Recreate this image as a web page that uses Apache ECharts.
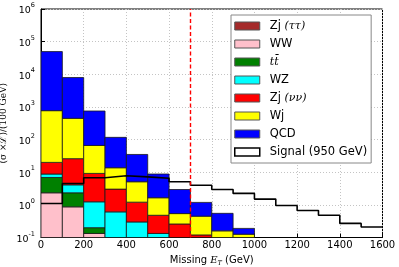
<!DOCTYPE html>
<html><head><meta charset="utf-8">
<script src="https://cdn.jsdelivr.net/npm/echarts@6/dist/echarts.min.js"></script>
<style>html,body{margin:0;padding:0;background:#fff}#c{width:399px;height:267px}</style>
</head><body><div id="c"></div>
<script>
// bin lower edges (GeV), each bin is 100 GeV wide
const binLow = [0,100,200,300,400,500,600,700,800,900,1000,1100,1200,1300,1400,1500];
const binWidth = 100;
// per-process contributions per bin, stacked bottom-up in this order
const zjTauTau = [0,0,0,0,0,0,0,0,0,0,0,0,0,0,0,0];
const ww      = [2.34,0.87,0.133,0,0,0,0,0,0,0,0,0,0,0,0,0];
const ttbar   = [4.56,1.47,0.067,0,0,0,0,0,0,0,0,0,0,0,0,0];
const wz      = [1.9,1.76,1.04,0.61,0.30,0.133,0,0,0,0,0,0,0,0,0,0];
const zjNuNu  = [11.2,21.9,7.96,2.43,0.91,0.347,0.26,0.12,0,0,0,0,0,0,0,0];
const wj      = [748,421,56.8,10.66,3.89,1.17,0.28,0.33,0.16,0.126,0,0,0,0,0,0];
const qcd     = [48800,7500,684,103.3,29.9,7.15,2.41,0.74,0.39,0.064,0,0,0,0,0,0];
const signal  = [1.1,4.5,6.8,7.8,7.2,6.5,5.1,4.0,2.97,2.24,1.5,0.96,0.67,0.48,0.27,0.21];
const cutValue = 700;
const yMin = 0.1, yMax = 1e6;
const xTicks = [0,200,400,600,800,1000,1200,1400,1600];

const procs = [
  {name:'Zj (ττ)', label:'{s|Zj }{m|(ττ)}', data:zjTauTau, color:'#a52a2a'},
  {name:'WW', label:'{s|WW}', data:ww, color:'#ffc0cb'},
  {name:'tt̄', label:'{m|tt̄}', data:ttbar, color:'#008000'},
  {name:'WZ', label:'{s|WZ}', data:wz, color:'#00ffff'},
  {name:'Zj (νν)', label:'{s|Zj }{m|(νν)}', data:zjNuNu, color:'#ff0000'},
  {name:'Wj', label:'{s|Wj}', data:wj, color:'#ffff00'},
  {name:'QCD', label:'{s|QCD}', data:qcd, color:'#0000ff'}
];
const cum = binLow.map(()=>0);
const series = [];
procs.forEach(p => {
  const items = [];
  binLow.forEach((x,i) => {
    const lo = cum[i];
    const hi = lo + p.data[i];
    cum[i] = hi;
    if (p.data[i] > 0 && hi > yMin) items.push([x, x + binWidth, Math.max(lo, yMin), hi]);
  });
  series.push({
    name: p.name, type:'custom', z:2, clip:true,
    itemStyle:{color:p.color, borderColor:'#1a1a1a', borderWidth:0.8},
    encode:{x:[0,1], y:[2,3]},
    renderItem:(params, api) => {
      const a = api.coord([api.value(0), api.value(3)]);
      const b = api.coord([api.value(1), api.value(2)]);
      return {type:'rect', shape:{x:a[0], y:a[1], width:b[0]-a[0], height:b[1]-a[1]},
        style:{fill:p.color, stroke:'#1a1a1a', lineWidth:0.8}};
    },
    data: items
  });
});
const sigPts = binLow.map((x,i)=>[x, signal[i]]);
sigPts.push([binLow[binLow.length-1]+binWidth, signal[signal.length-1]]);
series.push({
  name:'Signal (950 GeV)', type:'line', step:'end', symbol:'none', z:5,
  lineStyle:{color:'#000', width:1.6}, itemStyle:{color:'#fff'},
  data: sigPts,
  markLine:{silent:true, symbol:['none','none'], label:{show:false}, z:6,
    lineStyle:{color:'#ff0000', type:[4,2.5], width:1.4},
    data:[{xAxis:cutValue}]}
});

const legendRich = {
  s:{fontFamily:'DejaVu Sans', fontSize:11.5, color:'#000'},
  m:{fontFamily:'DejaVu Serif', fontStyle:'italic', fontSize:11, color:'#000'}
};
const legendData = procs.map(p => ({name:p.name, icon:'rect',
  itemStyle:{color:p.color, borderColor:'#555', borderWidth:1}}));
legendData.push({name:'Signal (950 GeV)', icon:'rect', itemStyle:{color:'#fff', borderColor:'#000', borderWidth:1.5}});
const labelMap = {};
procs.forEach(p => labelMap[p.name] = p.label);
labelMap['Signal (950 GeV)'] = '{s|Signal (950 GeV)}';

const chart = echarts.init(document.getElementById('c'), null, {renderer:'canvas'});
chart.setOption({
  animation:false,
  grid:{left:41, right:16.5, top:9, bottom:29.5, show:true, borderColor:'#000', borderWidth:1,
    backgroundColor:'transparent', containLabel:false, outerBoundsMode:'none'},
  xAxis:{type:'value', min:0, max:1600, interval:200,
    name:'{a|Missing }{e|E}{t|T}{a| (GeV)}', nameLocation:'middle', nameGap:13,
    nameTextStyle:{rich:{
      a:{fontFamily:'DejaVu Sans', fontSize:10, color:'#000', lineHeight:13},
      e:{fontFamily:'DejaVu Serif', fontStyle:'italic', fontSize:10, color:'#000', lineHeight:13},
      t:{fontFamily:'DejaVu Serif', fontStyle:'italic', fontSize:6.5, color:'#000', verticalAlign:'bottom', lineHeight:9}
    }},
    axisLine:{show:true, lineStyle:{color:'#000', width:1}},
    axisTick:{show:true, inside:true, length:4, lineStyle:{color:'#000'}},
    axisLabel:{fontFamily:'DejaVu Sans', fontSize:10, color:'#000', margin:3,
      formatter:v => xTicks.includes(v) ? String(v) : ''},
    splitLine:{show:true, lineStyle:{color:'#c4c4c4', type:[1,2], width:1}}
  },
  yAxis:{type:'log', logBase:10, min:yMin, max:yMax, interval:1, splitNumber:7,
    name:'(σ ×ℒ)/(100 GeV)', nameLocation:'middle', nameGap:33, nameRotate:90, nameMoveOverlap:false,
    nameTextStyle:{fontFamily:'DejaVu Serif', fontSize:9, color:'#000'},
    axisLine:{show:true, lineStyle:{color:'#000', width:1}},
    axisTick:{show:true, inside:true, length:4, lineStyle:{color:'#000'}},
    axisLabel:{margin:6, formatter:v => '{b|10}{s|' + Math.round(Math.log10(v)) + '}',
      rich:{
        b:{fontFamily:'DejaVu Sans', fontSize:9.5, color:'#000', lineHeight:14, verticalAlign:'bottom'},
        s:{fontFamily:'DejaVu Sans', fontSize:6.5, color:'#000', lineHeight:14, verticalAlign:'top'}
      }},
    splitLine:{show:true, lineStyle:{color:'#c4c4c4', type:[1,2], width:1}}
  },
  legend:{orient:'vertical', left:231, top:15, data:legendData,
    backgroundColor:'#fff', borderColor:'#888', borderWidth:1, borderRadius:0,
    padding:[4,4,4,3], itemWidth:25, itemHeight:8, itemGap:4,
    formatter:n => labelMap[n],
    textStyle:{lineHeight:14, padding:[0,0,0,5], rich:legendRich}},
  series: series
});
</script></body></html>
